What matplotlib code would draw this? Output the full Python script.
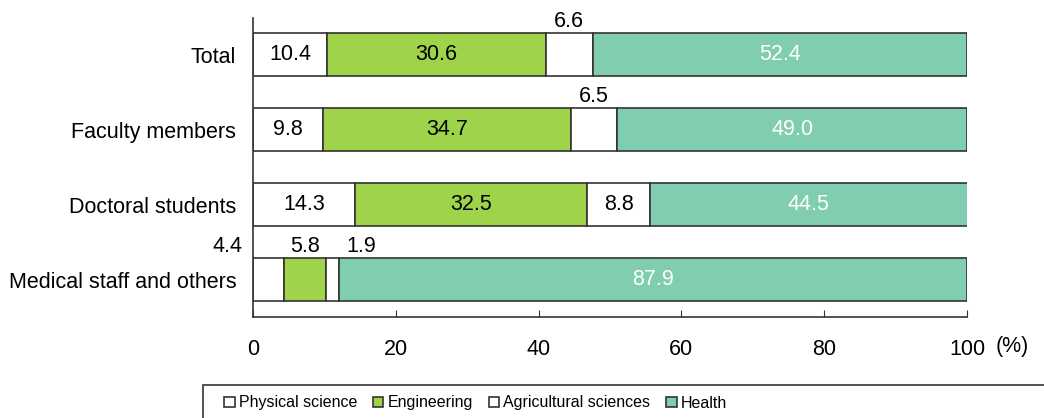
import matplotlib.pyplot as plt
import matplotlib.patches as patches

# data
categories = ['Total', 'Faculty members', 'Doctoral students', 'Medical staff and others']
fields = ['Physical science', 'Engineering', 'Agricultural sciences', 'Health']
physical = [10.4, 9.8, 14.3, 4.4]
engineering = [30.6, 34.7, 32.5, 5.8]
agricultural = [6.6, 6.5, 8.8, 1.9]
health = [52.4, 49.0, 44.5, 87.9]
xticks = [0, 20, 40, 60, 80, 100]

colors = ['white', '#9FD34A', 'white', '#80CDB0']
text_colors = ['black', 'black', 'black', 'white']

# small segments get their label above the bar, (row, series) -> x offset in px
outside = {(0, 2): 0, (1, 2): 0, (3, 0): -41, (3, 1): 0, (3, 2): 29}

plt.rcParams['font.family'] = ['Liberation Sans', 'DejaVu Sans']
FS = 15.5

W, H = 1044, 418
fig = plt.figure(figsize=(W / 100, H / 100), dpi=100)
ax = fig.add_axes([253 / W, 1 - 317 / H, (967 - 253) / W, (317 - 18) / H])

series = [physical, engineering, agricultural, health]
ypos = list(range(len(categories)))
left = [0] * len(categories)
for j, vals in enumerate(series):
    bars = ax.barh(ypos, vals, left=left, height=0.573, color=colors[j],
                   edgecolor='#333333', linewidth=1.2, label=fields[j])
    for i, (b, v) in enumerate(zip(bars, vals)):
        cx = b.get_x() + b.get_width() / 2
        if (i, j) in outside:
            ax.annotate(f'{v:.1f}', (cx, b.get_y()), xytext=(outside[(i, j)] * 0.72, 0.5),
                        textcoords='offset points', ha='center', va='bottom',
                        fontsize=FS, color='black', annotation_clip=False)
        else:
            ax.text(cx, b.get_y() + b.get_height() / 2, f'{v:.1f}', ha='center',
                    va='center', fontsize=FS, color=text_colors[j])
    left = [l + v for l, v in zip(left, vals)]

ax.set_xlim(0, 100)
ax.set_ylim(3.5, -0.487)
ax.set_yticks(ypos)
ax.set_yticklabels(categories, fontsize=FS)
ax.tick_params(axis='y', length=0, pad=12)
ax.set_xticks(xticks)
ax.tick_params(axis='x', direction='in', length=5, labelsize=FS, pad=16,
               color='#333333')
ax.spines['top'].set_visible(False)
ax.spines['right'].set_visible(False)
for s in ['left', 'bottom']:
    ax.spines[s].set_color('#333333')
    ax.spines[s].set_linewidth(1.2)

ax.text(1.04, -0.1, '(%)', transform=ax.transAxes, fontsize=FS, ha='left', va='center')

# legend box runs off the bottom/right edge of the figure
fig.patches.append(patches.Rectangle((203 / W, -0.1), 1.0, 1 - 385 / H + 0.1,
                                     transform=fig.transFigure, fill=False,
                                     edgecolor='#333333', linewidth=1.2))
handles, labels = ax.get_legend_handles_labels()
leg = fig.legend(handles, labels, loc='center left', bbox_to_anchor=(210 / W, 1 - 403 / H),
                 ncol=4, frameon=False, handlelength=0.65, handleheight=0.65,
                 handletextpad=0.25, columnspacing=1.0,
                 prop={'size': 11.5})

fig.savefig('out.png', dpi=100)
